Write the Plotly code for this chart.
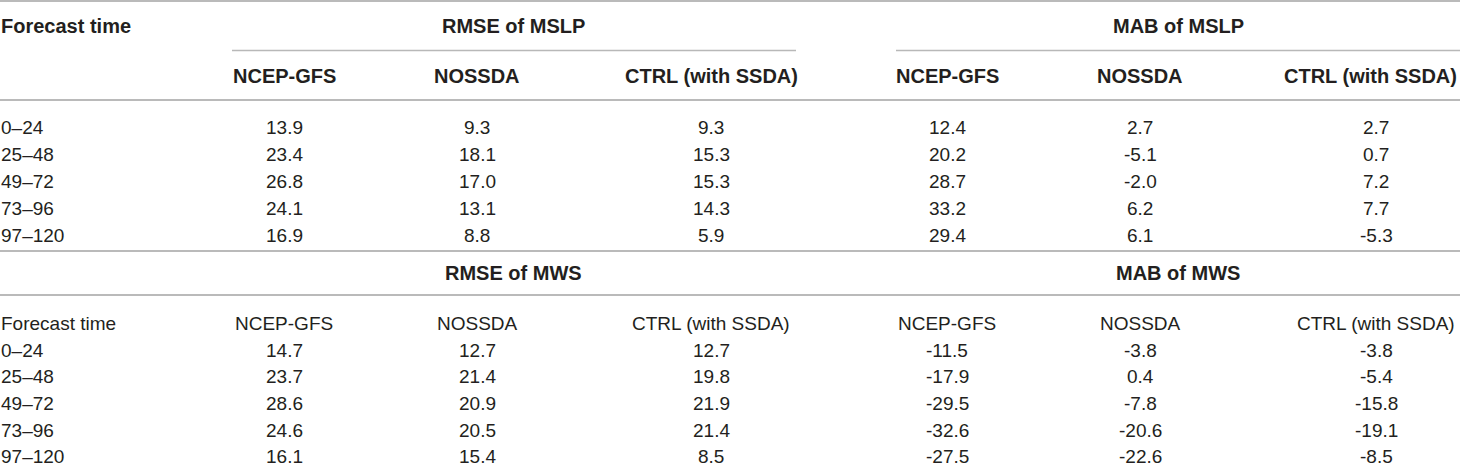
import plotly.graph_objects as go

# ---------------- data ----------------
forecast_times = ["0–24", "25–48", "49–72", "73–96", "97–120"]
models = ["NCEP-GFS", "NOSSDA", "CTRL (with SSDA)"]
group_titles_top = ["RMSE of MSLP", "MAB of MSLP"]
group_titles_bottom = ["RMSE of MWS", "MAB of MWS"]
first_col_title = "Forecast time"

rmse_mslp_ncep = [13.9, 23.4, 26.8, 24.1, 16.9]
rmse_mslp_nossda = [9.3, 18.1, 17.0, 13.1, 8.8]
rmse_mslp_ctrl = [9.3, 15.3, 15.3, 14.3, 5.9]
mab_mslp_ncep = [12.4, 20.2, 28.7, 33.2, 29.4]
mab_mslp_nossda = [2.7, -5.1, -2.0, 6.2, 6.1]
mab_mslp_ctrl = [2.7, 0.7, 7.2, 7.7, -5.3]

rmse_mws_ncep = [14.7, 23.7, 28.6, 24.6, 16.1]
rmse_mws_nossda = [12.7, 21.4, 20.9, 20.5, 15.4]
rmse_mws_ctrl = [12.7, 19.8, 21.9, 21.4, 8.5]
mab_mws_ncep = [-11.5, -17.9, -29.5, -32.6, -27.5]
mab_mws_nossda = [-3.8, 0.4, -7.8, -20.6, -22.6]
mab_mws_ctrl = [-3.8, -5.4, -15.8, -19.1, -8.5]

# ---------------- layout config ----------------
W, H = 1460, 468
col_x = [284, 477, 711, 947, 1140, 1376]
group_x = [513, 1178]
group_spans = [(232, 796), (896, 1460)]
row_h_top = 27.1
row_h_bot = 26.7
FONT = "Liberation Sans, Arial, Helvetica, sans-serif"
FS = 19
FS_BOLD = 20
TXT = "#231f20"
LINE_DARK = "#a3a3a3"
LINE_LIGHT = "#b8b8b8"

top_cols = [rmse_mslp_ncep, rmse_mslp_nossda, rmse_mslp_ctrl,
            mab_mslp_ncep, mab_mslp_nossda, mab_mslp_ctrl]
bot_cols = [rmse_mws_ncep, rmse_mws_nossda, rmse_mws_ctrl,
            mab_mws_ncep, mab_mws_nossda, mab_mws_ctrl]

ann = []


def txt(x, y, s, anchor="center", bold=False):
    ann.append(dict(x=x, y=y, xref="x", yref="y", text=(f"<b>{s}</b>" if bold else s),
                    showarrow=False, xanchor=anchor, yanchor="middle", borderpad=0,
                    font=dict(family=FONT, size=(FS_BOLD if bold else FS), color=TXT)))


# top block
txt(0, 26, first_col_title, "left", True)
for gx, g in zip(group_x, group_titles_top):
    txt(gx, 26, g, bold=True)
for i, cx in enumerate(col_x):
    if i == len(col_x) - 1:
        txt(W - 2, 76, models[i % 3], "right", bold=True)
    else:
        txt(cx, 76, models[i % 3], bold=True)
y0 = 127
for r, ft in enumerate(forecast_times):
    y = y0 + r * row_h_top
    txt(0, y, ft, "left")
    for c, cx in enumerate(col_x):
        txt(cx, y, f"{top_cols[c][r]:.1f}")

# bottom block
for gx, g in zip(group_x, group_titles_bottom):
    txt(gx, 273, g, bold=True)
txt(0, 323, first_col_title, "left")
for i, cx in enumerate(col_x):
    txt(cx, 323, models[i % 3])
y1 = 350
for r, ft in enumerate(forecast_times):
    y = y1 + r * row_h_bot
    txt(0, y, ft, "left")
    for c, cx in enumerate(col_x):
        txt(cx, y, f"{bot_cols[c][r]:.1f}")

shapes = []


def hline(y, x0=0, x1=W, color=LINE_DARK, w=1.6):
    shapes.append(dict(type="line", xref="x", yref="y", x0=x0, x1=x1, y0=y, y1=y,
                       line=dict(color=color, width=w)))


hline(1)
for a, b in group_spans:
    hline(50.5, a, b, LINE_LIGHT, 1.4)
hline(100)
hline(251)
hline(295)

fig = go.Figure()
fig.add_trace(go.Scatter(x=[0, W], y=[0, H], mode="markers",
                         marker=dict(opacity=0), hoverinfo="skip", showlegend=False))
fig.update_layout(
    width=W, height=H, margin=dict(l=0, r=0, t=0, b=0),
    paper_bgcolor="white", plot_bgcolor="white",
    xaxis=dict(range=[0, W], visible=False, fixedrange=True),
    yaxis=dict(range=[H, 0], visible=False, fixedrange=True),
    annotations=ann, shapes=shapes, showlegend=False,
)
fig.write_html("out.html", config={"displayModeBar": False},
               post_script="document.body.style.margin='0';")
